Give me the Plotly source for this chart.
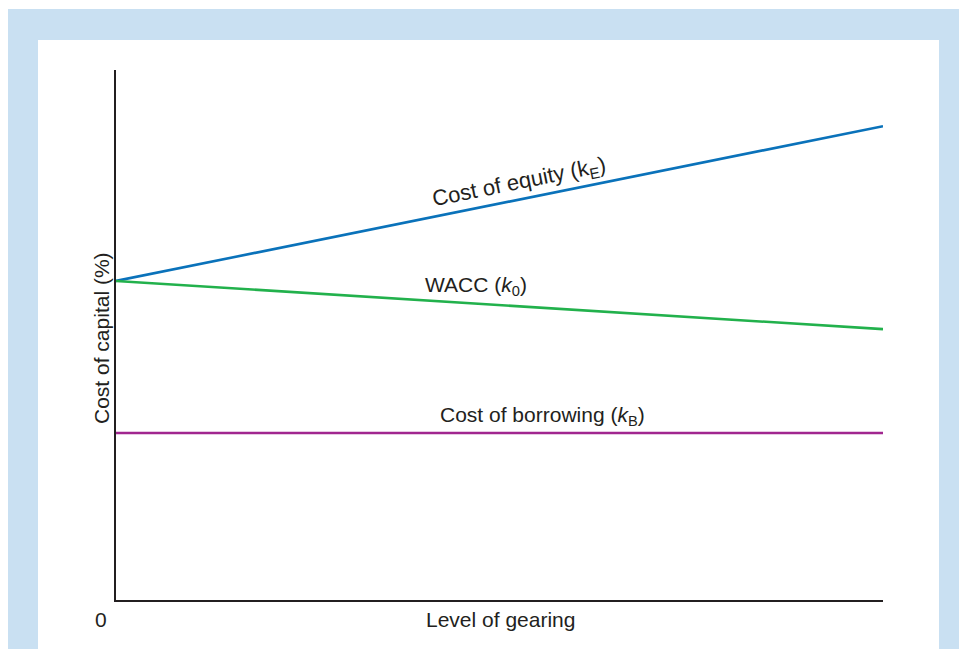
import plotly.graph_objects as go

# Data (arbitrary units; y axis 0-10, x axis 0-10)
gearing = [0, 10]
cost_of_equity = [6.02, 8.94]
wacc = [6.02, 5.11]
cost_of_borrowing = [3.15, 3.15]

OFF = 8  # page body margin in the browser
W, H = 967 - OFF, 649 - OFF
L, R, T, B = 116 - OFF, 883 - OFF, 70 - OFF, 600 - OFF  # plot area in figure pixels

def px(x):
    return (x - OFF - L) / (R - L)

def py(y):
    return (B - (y - OFF)) / (B - T)

fig = go.Figure()
fig.add_trace(go.Scatter(x=gearing, y=cost_of_equity, mode="lines",
                         line=dict(color="#0a72ba", width=2.6), hoverinfo="skip"))
fig.add_trace(go.Scatter(x=gearing, y=wacc, mode="lines",
                         line=dict(color="#22b14c", width=2.6), hoverinfo="skip"))
fig.add_trace(go.Scatter(x=gearing, y=cost_of_borrowing, mode="lines",
                         line=dict(color="#a1268f", width=2.6), hoverinfo="skip"))

txt = "#231f20"
font = dict(family="Liberation Sans, Arial, sans-serif", size=21, color=txt)

annotations = [
    dict(text="Cost of equity (k<sub>E</sub>)", x=px(519), y=py(183), textangle=-11.4,
         font=dict(family=font["family"], size=22, color=txt)),
    dict(text="WACC (<i>k</i><sub>0</sub>)", x=px(476), y=py(286), textangle=0, font=font),
    dict(text="Cost of borrowing (<i>k</i><sub>B</sub>)", x=px(542), y=py(416), textangle=0, font=font),
    dict(text="Level of gearing", x=px(500), y=py(619), textangle=0, font=font),
    dict(text="0", x=px(101), y=py(619), textangle=0, font=font),
    dict(text="Cost of capital (%)", x=px(101), y=py(338), textangle=-90, font=font),
]
for a in annotations:
    fig.add_annotation(xref="paper", yref="paper", showarrow=False,
                       xanchor="center", yanchor="middle", **a)

# Background frame
fig.add_shape(type="rect", xref="paper", yref="paper", layer="below",
              x0=px(8), x1=px(975), y0=py(670), y1=py(9),
              fillcolor="#c9e0f2", line=dict(width=0))
fig.add_shape(type="rect", xref="paper", yref="paper", layer="below",
              x0=px(38), x1=px(939), y0=py(670), y1=py(40),
              fillcolor="white", line=dict(width=0))

fig.update_layout(
    width=W, height=H,
    margin=dict(l=L, r=W - R, t=T, b=H - B),
    paper_bgcolor="white", plot_bgcolor="rgba(0,0,0,0)",
    showlegend=False,
    xaxis=dict(range=[0, 10], showgrid=False, zeroline=False, showticklabels=False,
               ticks="", showline=True, linecolor=txt, linewidth=1.5, fixedrange=True),
    yaxis=dict(range=[0, 10], showgrid=False, zeroline=False, showticklabels=False,
               ticks="", showline=True, linecolor=txt, linewidth=1.5, fixedrange=True),
)

fig.write_html("out.html")
